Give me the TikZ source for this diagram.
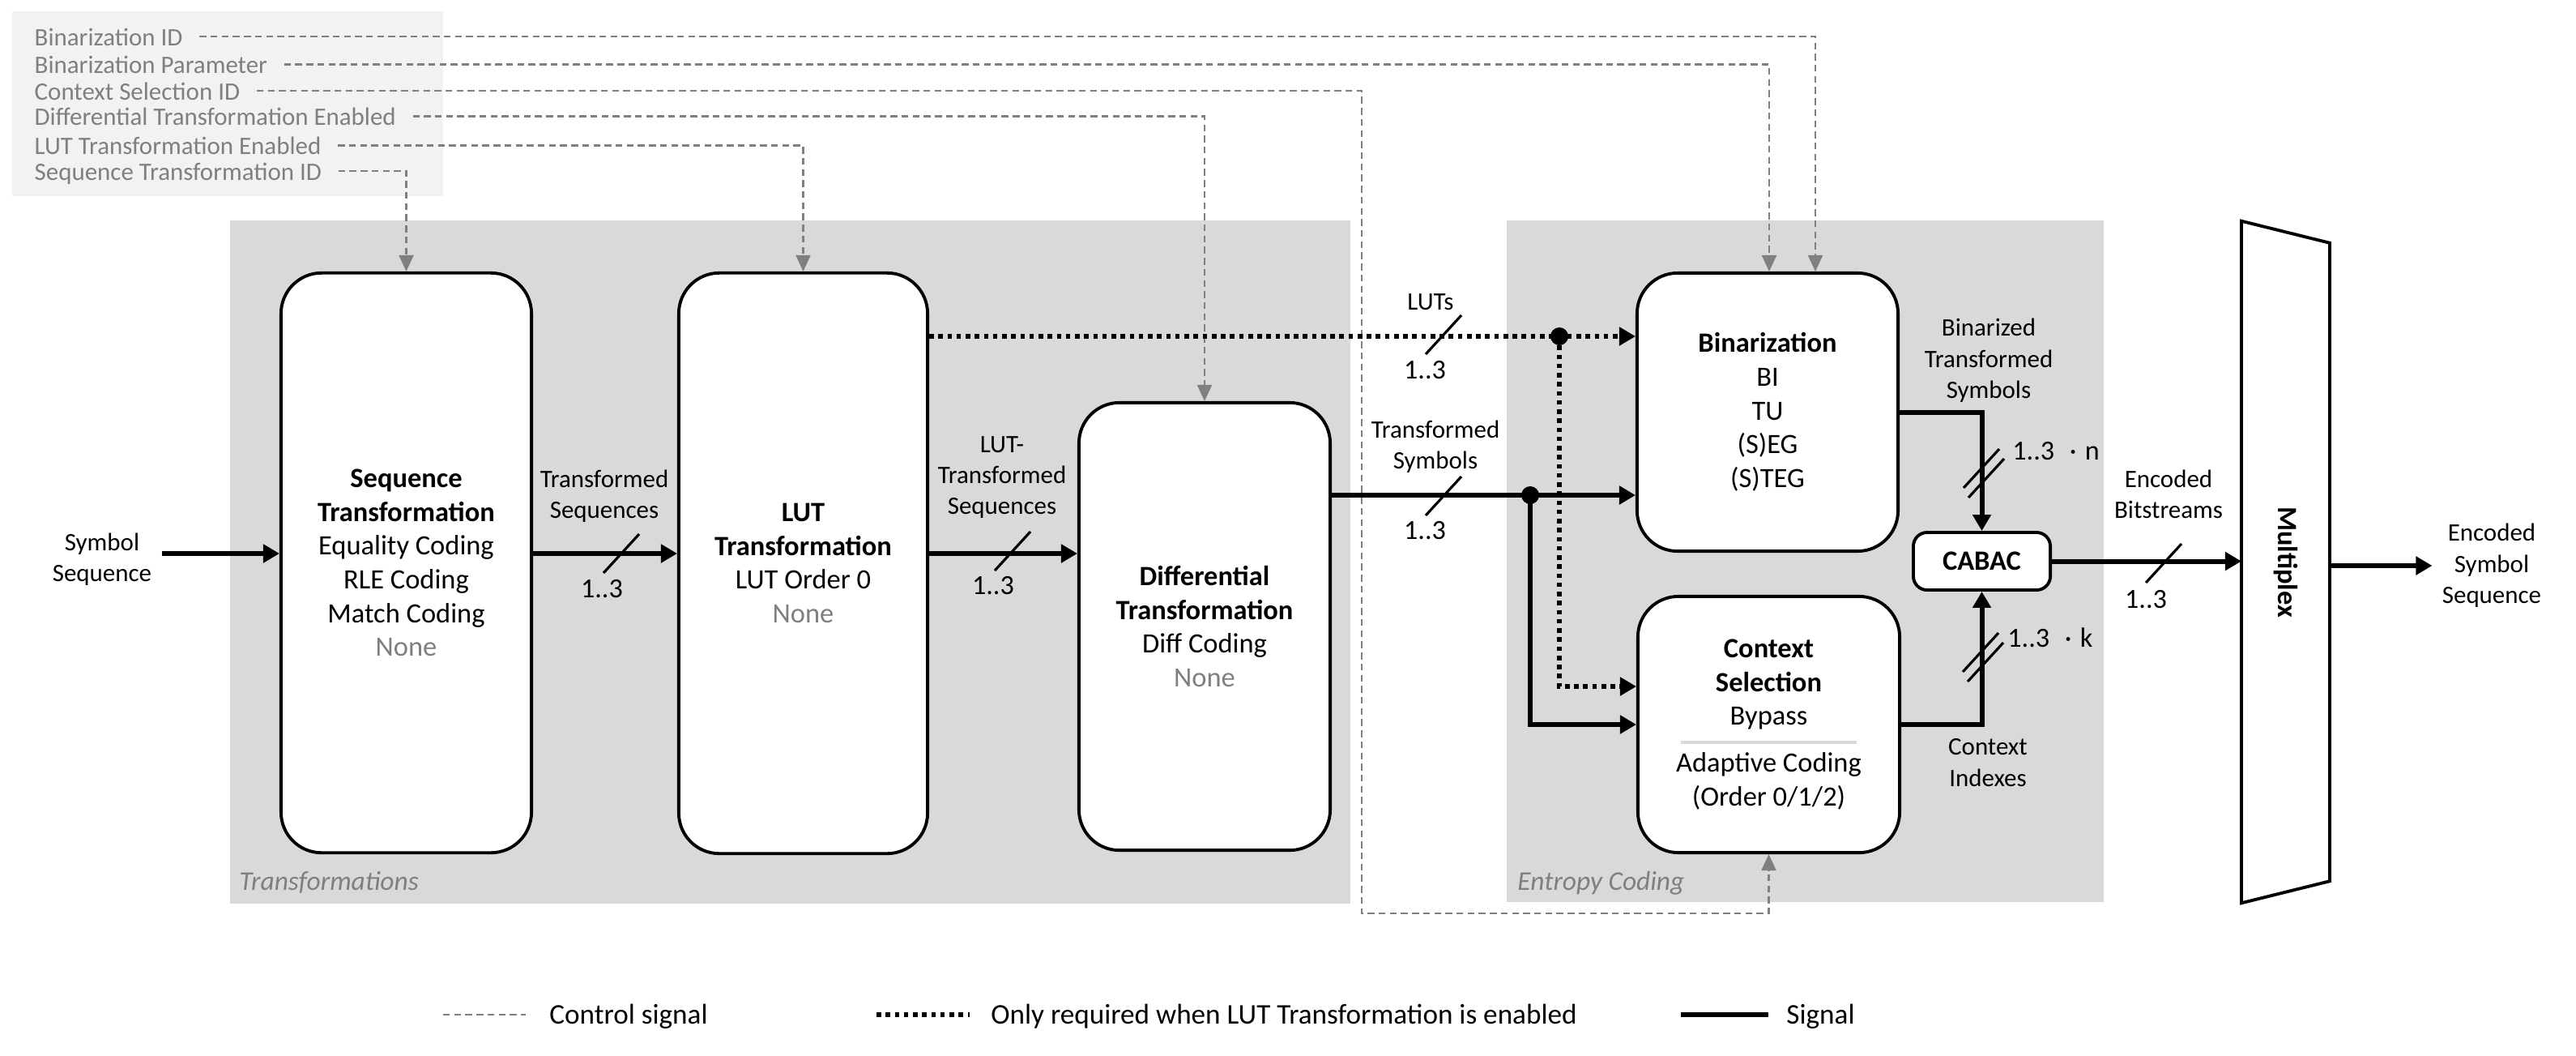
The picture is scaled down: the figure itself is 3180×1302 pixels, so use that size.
\documentclass[tikz,border=0pt]{standalone}
\usepackage{fontspec}
\setmainfont{Carlito}
\usetikzlibrary{calc,arrows.meta}
\definecolor{regiongray}{HTML}{D9D9D9}
\definecolor{ctrlfill}{HTML}{F2F2F2}
\definecolor{ctrlgray}{HTML}{7F7F7F}
\def\busslash(#1){\draw[busline] ($(#1)+(-22,24)$) -- ($(#1)+(22,-24)$);}
\def\dbusslash(#1){\draw[busline] ($(#1)+(-25,18)$) -- ($(#1)+(19,-30)$); \draw[busline] ($(#1)+(-19,30)$) -- ($(#1)+(25,-18)$);}
\tikzset{
	blockbox/.style={draw, line width=1.1pt, fill=white, rounded corners=0.5cm, align=center, font=\fontsize{9.8}{11.85}\selectfont},
	cabacbox/.style={draw, line width=1.1pt, fill=white, rounded corners=0.17cm, font=\fontsize{9.8}{11.85}\selectfont\bfseries},
	siglabel/.style={align=center, font=\fontsize{8.8}{10.9}\selectfont},
	buslabel/.style={font=\fontsize{9.7}{11.85}\selectfont},
	ctrllabel/.style={anchor=west, inner xsep=0.2cm, text height=0.644em, text depth=0pt, text=ctrlgray, font=\fontsize{8.8}{10}\selectfont},
	regionlabel/.style={anchor=base west, text=ctrlgray, font=\fontsize{9.5}{11}\selectfont\itshape},
	legendlabel/.style={anchor=base west, font=\fontsize{10}{12}\selectfont},
	signal/.style={line width=1.7pt, -{Triangle[length=0.2cm,width=0.22cm]}},
	lutline/.style={line width=1.5pt, dash pattern=on 1.6pt off 1.6pt, -{Triangle[length=0.2cm,width=0.22cm]}},
	ctrlline/.style={ctrlgray, line width=0.6pt, dash pattern=on 2.4pt off 1.5pt, -{Triangle[length=0.2cm,width=0.18cm]}},
	busline/.style={line width=0.9pt},
	sepline/.style={regiongray, line width=1.1pt}
}
\begin{document}
\begin{tikzpicture}[x=0.01cm, y=-0.01cm]
	%%%%% START %%%%%
	\useasboundingbox (0,0) rectangle (3180,1302);
	
	\fill[ctrlfill] (15,14) rectangle (547,242);
	\fill[regiongray] (284,272) rectangle (1667,1115);
	\fill[regiongray] (1860,272) rectangle (2597,1113);
	\node[regionlabel] (transl) at (283,1098) {Transformations};
	\node[regionlabel] (entrl) at (1861,1098) {Entropy Coding};
	
	\node[ctrllabel] (binid) at (22,45) {Binarization ID};
	\node[ctrllabel] (binpar) at (22,79.5) {Binarization Parameter};
	\node[ctrllabel] (ctxid) at (22,112) {Context Selection ID};
	\node[ctrllabel] (diffen) at (22,143.5) {Differential Transformation Enabled};
	\node[ctrllabel] (luten) at (22,179.5) {LUT Transformation Enabled};
	\node[ctrllabel] (seqid) at (22,211) {Sequence Transformation ID};
	
	\node[blockbox, minimum width=3.09cm, minimum height=7.15cm] (seq) at (501.5,694.5) {\textbf{Sequence}\\\textbf{Transformation}\\Equality Coding\\RLE Coding\\Match Coding\\\textcolor{ctrlgray}{None}};
	\node[blockbox, minimum width=3.07cm, minimum height=7.16cm] (lut) at (991.5,695) {\textbf{LUT}\\\textbf{Transformation}\\LUT Order 0\\\textcolor{ctrlgray}{None}};
	\node[blockbox, minimum width=3.10cm, minimum height=5.52cm] (diff) at (1487,773) {\textbf{Differential}\\\textbf{Transformation}\\Diff Coding\\\textcolor{ctrlgray}{None}};
	\node[blockbox, minimum width=3.22cm, minimum height=3.43cm] (bin) at (2182,508.5) {\textbf{Binarization}\\BI\\TU\\(S)EG\\(S)TEG};
	\node[blockbox, minimum width=3.23cm, minimum height=3.16cm] (ctx) at (2183.5,894) {\textbf{Context}\\\textbf{Selection}\\Bypass\\[0.16cm]Adaptive Coding\\(Order 0/1/2)};
	\draw[sepline] ($(ctx.center)+(-109,22)$) -- ($(ctx.center)+(108,22)$);
	\node[cabacbox, minimum width=1.69cm, minimum height=0.71cm] (cabac) at (2446.5,692.5) {CABAC};
	\node[outer sep=0, minimum width=1.09cm, minimum height=8.41cm] (mux) at (2821.5,693.5) {};
	\draw[line width=1.1pt] (mux.north west) -- ($(mux.north east)+(0,27)$) -- ($(mux.south east)+(0,-27)$) -- (mux.south west) -- cycle;
	\node[rotate=-90, font=\fontsize{9.8}{11.85}\selectfont\bfseries] (muxtext) at (mux.center) {Multiplex};
	
	\draw[ctrlline] (binid.east) -| ($(bin.north)+(59,0)$);
	\draw[ctrlline] (binpar.east) -| ($(bin.north)+(2,0)$);
	\coordinate (ctxturn) at (1681,1127);
	\draw[ctrlline] (ctxid.east) -| (ctxturn) -| (ctx.south);
	\draw[ctrlline] (diffen.east) -| (diff.north);
	\draw[ctrlline] (luten.east) -| (lut.north);
	\draw[ctrlline] (seqid.east) -| (seq.north);
	
	\coordinate (flow) at (0,683);
	\coordinate (tsym) at (0,611);
	\coordinate (lutsplit) at (1925,415);
	\coordinate (tsplit) at (1889,611);
	\node[siglabel] (symin) at (126,690) {Symbol\\Sequence};
	\draw[signal] (symin.east |- flow) -- (seq.west |- flow);
	\draw[signal] (seq.east |- flow) -- (lut.west |- flow);
	\draw[signal] (lut.east |- flow) -- (diff.west |- flow);
	\draw[signal] (diff.east |- tsym) -- (bin.west |- tsym);
	\draw[signal] (tsplit) |- (ctx.west);
	\draw[lutline] (lut.east |- lutsplit) -- (bin.west |- lutsplit);
	\draw[lutline] (lutsplit) |- ($(ctx.west)+(0,-47)$);
	\fill (lutsplit) circle (0.11cm);
	\fill (tsplit) circle (0.11cm);
	\draw[signal] (bin.east) -| (cabac.north);
	\draw[signal] (ctx.east) -| (cabac.south);
	\draw[signal] (cabac.east) -- (cabac.east -| mux.west);
	\node[siglabel] (encout) at (3076,698) {Encoded\\Symbol\\Sequence};
	\draw[signal] (mux.east |- encout) -- (encout.west);
	
	\node[siglabel] (tseqlbl) at (746,612) {Transformed\\Sequences};
	\busslash(767,683)
	\node[buslabel] (tseqnum) at (743,727) {1..3};
	\node[siglabel] (lseqlbl) at (1237,589) {LUT-\\Transformed\\Sequences};
	\busslash(1250,680)
	\node[buslabel] (lseqnum) at (1226,723) {1..3};
	\node[siglabel] (lutslbl) at (1766,373) {LUTs};
	\busslash(1782,413)
	\node[buslabel] (lutsnum) at (1759,457) {1..3};
	\node[siglabel] (tsymlbl) at (1772,551) {Transformed\\Symbols};
	\busslash(1782,612)
	\node[buslabel] (tsymnum) at (1759,655) {1..3};
	\node[siglabel] (bsymlbl) at (2455,445) {Binarized\\Transformed\\Symbols};
	\dbusslash(2449,584)
	\node[buslabel, anchor=west] (bsymnum) at (2472,557) {1..3\hspace{0.55em}·\hspace{0.3em}n};
	\node[siglabel] (cidxlbl) at (2454,941) {Context\\Indexes};
	\dbusslash(2448,811)
	\node[buslabel, anchor=west] (cidxnum) at (2466,787) {1..3\hspace{0.55em}·\hspace{0.3em}k};
	\node[siglabel] (ebitlbl) at (2677,610) {Encoded\\Bitstreams};
	\busslash(2671,695)
	\node[buslabel] (ebitnum) at (2649,740) {1..3};
	
	\draw[ctrlline, -] (547,1252) -- (649,1252);
	\node[legendlabel] (legctrl) at (666,1263) {Control signal};
	\draw[lutline, -] (1082,1252) -- (1197,1252);
	\node[legendlabel] (leglut) at (1211,1263) {Only required when LUT Transformation is enabled};
	\draw[signal, -] (2075,1252) -- (2183,1252);
	\node[legendlabel] (legsig) at (2193,1263) {Signal};
	
	%%%%% END %%%%%
\end{tikzpicture}
\end{document}
